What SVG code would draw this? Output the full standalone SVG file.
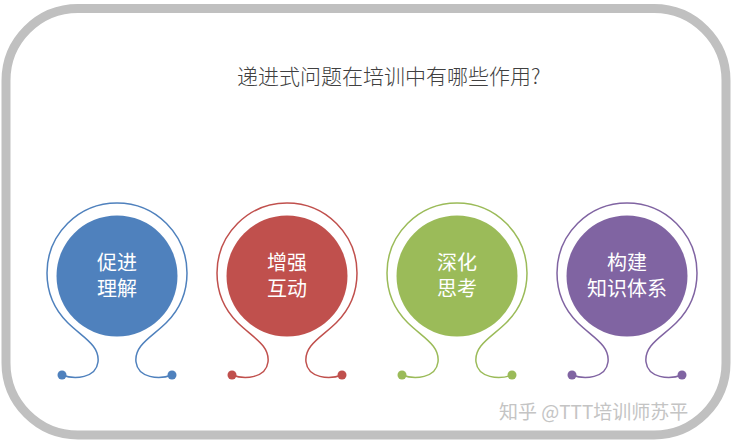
<svg xmlns="http://www.w3.org/2000/svg" width="733" height="446" viewBox="0 0 733 446">
<style>
.title{font-family:"Noto Sans CJK SC","Noto Sans",sans-serif;font-size:21px;font-weight:300;fill:#404040}
.lbl{font-family:"Noto Sans CJK SC","Noto Sans",sans-serif;font-size:20px;fill:#ffffff;text-anchor:middle}
.wm{font-family:"Noto Sans CJK SC","Noto Sans",sans-serif;font-size:19px;fill:#c4c4c4}
.loop{fill:none;stroke-width:1.5}
</style>
<defs>
<path id="loop" d="M 62 375 C 75 380 96 378 98 362 C 100 345 82 337 67.5 322.5 A 70 70 0 1 1 166.5 322.5 C 152 337 134 345 136 362 C 138 378 159 380 172 375"/>
</defs>
<rect x="6" y="8.5" width="720" height="426.5" rx="72" ry="72" fill="#ffffff" stroke="#c0c0c0" stroke-width="9"/>
<text class="title" x="237" y="84">递进式问题在培训中有哪些作用?</text>
<g id="connectors">
<use href="#loop" class="loop" stroke="#4f81bd"/>
<use href="#loop" class="loop" stroke="#c0504d" transform="translate(170,0)"/>
<use href="#loop" class="loop" stroke="#9bbb59" transform="translate(340,0)"/>
<use href="#loop" class="loop" stroke="#8064a2" transform="translate(510,0)"/>
</g>
<g id="node1">
<circle cx="117" cy="276" r="60.5" fill="#4f81bd"/>
<circle cx="62" cy="375" r="4.5" fill="#4f81bd"/>
<circle cx="172" cy="375" r="4.5" fill="#4f81bd"/>
<text class="lbl" x="117" y="270">促进</text>
<text class="lbl" x="117" y="296">理解</text>
</g>
<g id="node2">
<circle cx="287" cy="276" r="60.5" fill="#c0504d"/>
<circle cx="232" cy="375" r="4.5" fill="#c0504d"/>
<circle cx="342" cy="375" r="4.5" fill="#c0504d"/>
<text class="lbl" x="287" y="270">增强</text>
<text class="lbl" x="287" y="296">互动</text>
</g>
<g id="node3">
<circle cx="457" cy="276" r="60.5" fill="#9bbb59"/>
<circle cx="402" cy="375" r="4.5" fill="#9bbb59"/>
<circle cx="512" cy="375" r="4.5" fill="#9bbb59"/>
<text class="lbl" x="457" y="270">深化</text>
<text class="lbl" x="457" y="296">思考</text>
</g>
<g id="node4">
<circle cx="627" cy="276" r="60.5" fill="#8064a2"/>
<circle cx="572" cy="375" r="4.5" fill="#8064a2"/>
<circle cx="682" cy="375" r="4.5" fill="#8064a2"/>
<text class="lbl" x="627" y="270">构建</text>
<text class="lbl" x="627" y="296">知识体系</text>
</g>
<text class="wm" x="499" y="419">知乎 @TTT培训师苏平</text>
</svg>
